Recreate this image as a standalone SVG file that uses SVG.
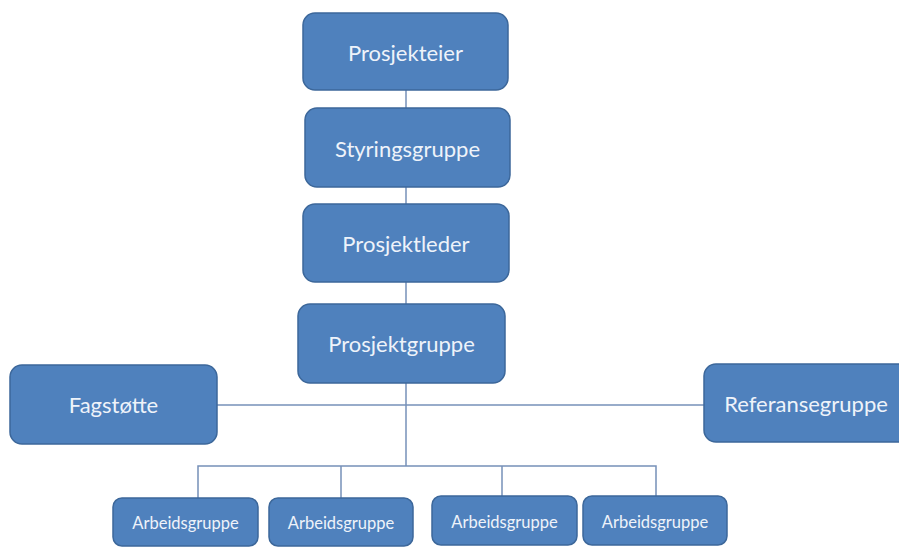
<svg xmlns="http://www.w3.org/2000/svg" width="899" height="547" viewBox="0 0 899 547">
<style>
.box{fill:#4F81BD;stroke:#3C679A;stroke-width:1.5}
.t{font-family:Lato,"Open Sans","Liberation Sans",sans-serif;fill:#EEF3FA;text-anchor:middle;font-size:22px}
.s{font-size:16.5px}
.c{stroke:#7690B8;stroke-width:1.5;fill:none}
</style>
<rect width="899" height="547" fill="#FFFFFF"/>
<g id="connectors">
<line class="c" x1="406" y1="90" x2="406" y2="108"/>
<line class="c" x1="406" y1="187" x2="406" y2="204"/>
<line class="c" x1="406" y1="282" x2="406" y2="304"/>
<line class="c" x1="406" y1="383" x2="406" y2="466"/>
<line class="c" x1="217" y1="405" x2="704" y2="405"/>
<polyline class="c" points="198,498 198,466 656,466 656,496"/>
<line class="c" x1="341" y1="466" x2="341" y2="499"/>
<line class="c" x1="502" y1="466" x2="502" y2="496"/>
</g>
<g id="prosjekteier"><rect class="box" x="303" y="13" width="205" height="77" rx="12"/><text class="t" x="405.5" y="61">Prosjekteier</text></g>
<g id="styringsgruppe"><rect class="box" x="305" y="108" width="205" height="79" rx="12"/><text class="t" x="407.5" y="157">Styringsgruppe</text></g>
<g id="prosjektleder"><rect class="box" x="303" y="204" width="206" height="78" rx="12"/><text class="t" x="406" y="252">Prosjektleder</text></g>
<g id="prosjektgruppe"><rect class="box" x="298" y="304" width="207" height="79" rx="12"/><text class="t" x="401.5" y="352">Prosjektgruppe</text></g>
<g id="fagstotte"><rect class="box" x="10" y="365" width="207" height="79" rx="12"/><text class="t" x="113.5" y="413">Fagstøtte</text></g>
<g id="referansegruppe"><rect class="box" x="704" y="364" width="206" height="78" rx="12"/><text class="t" x="806" y="412">Referansegruppe</text></g>
<g id="arbeidsgruppe1"><rect class="box" x="113" y="498" width="145" height="48" rx="9"/><text class="t s" x="185.5" y="529">Arbeidsgruppe</text></g>
<g id="arbeidsgruppe2"><rect class="box" x="269" y="498" width="144" height="48" rx="9"/><text class="t s" x="341" y="529">Arbeidsgruppe</text></g>
<g id="arbeidsgruppe3"><rect class="box" x="432" y="496" width="145" height="49" rx="9"/><text class="t s" x="504.5" y="528">Arbeidsgruppe</text></g>
<g id="arbeidsgruppe4"><rect class="box" x="583" y="496" width="144" height="49" rx="9"/><text class="t s" x="655" y="528">Arbeidsgruppe</text></g>
</svg>
